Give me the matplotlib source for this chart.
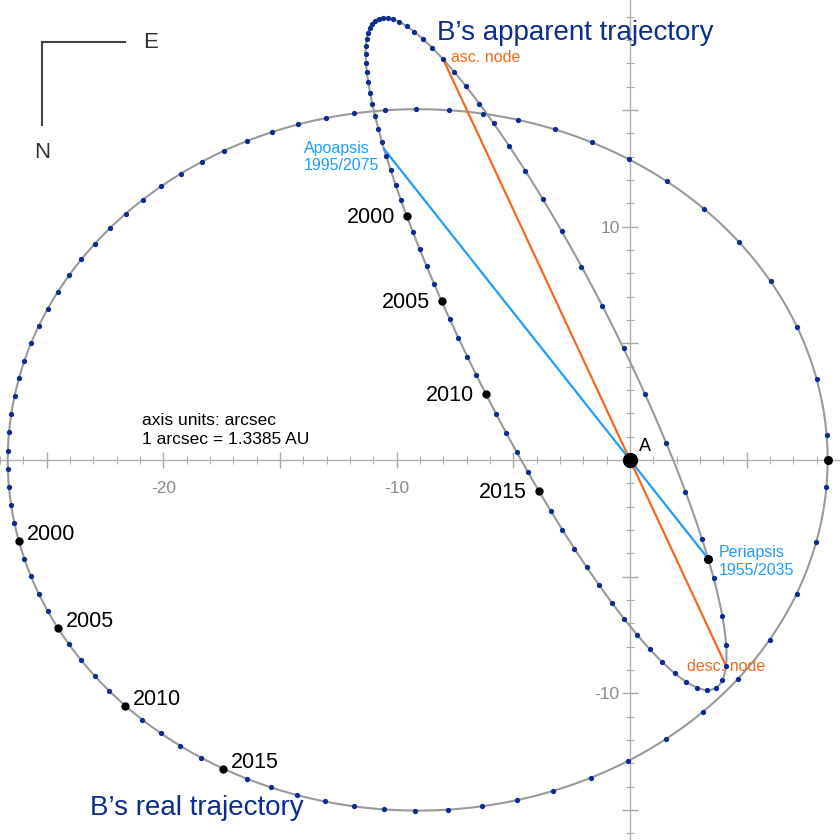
import numpy as np
import matplotlib
matplotlib.use("Agg")
import matplotlib.pyplot as plt

plt.rcParams["font.family"] = ["Liberation Sans", "DejaVu Sans"]

# orbital elements of alpha Centauri B around A
a = 17.57        # semi-major axis, arcsec
e = 0.5179       # eccentricity
inc = 79.20      # inclination, deg
node = 205.0     # longitude of ascending node, deg
omega = 231.7    # argument of periapsis, deg
period = 79.91   # years
t_peri = 1955.56 # epoch of periapsis

years = np.arange(1956, 2036)          # one dot per year
labeled_years = [2000, 2005, 2010, 2015]

navy = "#0b2d8e"
blue = "#1c9dff"
orange = "#f26a1d"
grey = "#9a9a9a"

# Thiele-Innes constants
w, W, i = np.radians(omega), np.radians(node), np.radians(inc)
TA = a * (np.cos(w) * np.cos(W) - np.sin(w) * np.sin(W) * np.cos(i))
TB = a * (np.cos(w) * np.sin(W) + np.sin(w) * np.cos(W) * np.cos(i))
TF = a * (-np.sin(w) * np.cos(W) - np.cos(w) * np.sin(W) * np.cos(i))
TG = a * (-np.sin(w) * np.sin(W) + np.cos(w) * np.cos(W) * np.cos(i))
sq = np.sqrt(1 - e**2)


def ecc_anomaly(t):
    M = 2 * np.pi * (np.asarray(t, float) - t_peri) / period
    E = M.copy()
    for _ in range(30):
        E = E - (E - e * np.sin(E) - M) / (1 - e * np.cos(E))
    return E


def real_pos(E):
    return a * (np.cos(E) - e), a * sq * np.sin(E)


def sky_pos(E):
    X = np.cos(E) - e
    Y = sq * np.sin(E)
    # x = east, y = -north (north points down)
    return TB * X + TG * Y, -(TA * X + TF * Y)


def E_from_nu(nu):
    return 2 * np.arctan(np.sqrt((1 - e) / (1 + e)) * np.tan(nu / 2))


E_line = np.linspace(0, 2 * np.pi, 721)
E_years = ecc_anomaly(years)
E_lab = ecc_anomaly(labeled_years)

fig = plt.figure(figsize=(8.4, 8.4), dpi=100)
ax = fig.add_axes([0, 0, 1, 1])
ax.set_xlim(-27.0, 9.0)
ax.set_ylim(-16.29, 19.71)
ax.set_aspect("equal")

# axes through A
for s in ["top", "right"]:
    ax.spines[s].set_visible(False)
for s in ["left", "bottom"]:
    ax.spines[s].set_position(("data", 0))
    ax.spines[s].set_color("#b0b0b0")
    ax.spines[s].set_linewidth(1)
xmaj = np.arange(-25, 10, 5)
ymaj = np.arange(-15, 20, 5)
ax.set_xticks(xmaj)
ax.set_xticklabels(["-20" if v == -20 else "-10" if v == -10 else "" for v in xmaj])
ax.set_yticks(ymaj)
ax.set_yticklabels(["10" if v == 10 else "-10" if v == -10 else "" for v in ymaj])
ax.set_xticks(np.arange(-27, 10), minor=True)
ax.set_yticks(np.arange(-16, 20), minor=True)
ax.tick_params(which="major", direction="inout", length=11, width=1,
               color="#aaaaaa", labelcolor="#8a8a8a", labelsize=12.5)
ax.tick_params(which="minor", direction="inout", length=6, width=0.8, color="#aaaaaa")
ax.tick_params(axis="x", which="major", pad=10)
ax.tick_params(axis="y", which="major", pad=2)

# trajectories
rx, ry = real_pos(E_line)
ax.plot(rx, ry, color=grey, lw=1.5, zorder=3)
sx, sy = sky_pos(E_line)
ax.plot(sx, sy, color=grey, lw=1.5, zorder=3)

# apsides and nodes
px, py = sky_pos(0.0)
qx, qy = sky_pos(np.pi)
ax.plot([qx, px], [qy, py], color=blue, lw=1.6, zorder=4)
nu_asc = -np.radians(omega)
nu_desc = np.pi - np.radians(omega)
ax_, ay_ = sky_pos(E_from_nu(nu_asc))
dx_, dy_ = sky_pos(E_from_nu(nu_desc))
ax.plot([ax_, dx_], [ay_, dy_], color=orange, lw=1.6, zorder=4)

# yearly dots
ax.plot(*real_pos(E_years), "o", color=navy, ms=3.8, mec="none", zorder=5)
ax.plot(*sky_pos(E_years), "o", color=navy, ms=3.8, mec="none", zorder=5)
ax.plot(*real_pos(E_lab), "o", color="black", ms=6, mec="none", zorder=6)
ax.plot(*sky_pos(E_lab), "o", color="black", ms=6, mec="none", zorder=6)
ax.plot(*real_pos(0.0), "o", color="black", ms=6.5, mec="none", zorder=6)
ax.plot(px, py, "o", color="black", ms=6.5, mec="none", zorder=6)
ax.plot(0, 0, "o", color="black", ms=11, mec="none", zorder=7)

# year labels
for yr, xr, yrr, xs, ys in zip(labeled_years, *real_pos(E_lab), *sky_pos(E_lab)):
    ax.annotate(str(yr), (xr, yrr), xytext=(8, 6), textcoords="offset pixels",
                ha="left", va="center", fontsize=15.5, zorder=8)
    ax.annotate(str(yr), (xs, ys), xytext=(-12, -1), textcoords="offset pixels",
                ha="right", va="center", fontsize=15.5, zorder=8)

ax.annotate("A", (0, 0), xytext=(15, 13), textcoords="offset pixels",
            ha="center", va="center", fontsize=13)
ax.annotate("Apoapsis\n1995/2075", (qx, qy), xytext=(-5, -8), textcoords="offset pixels",
            ha="right", va="center", multialignment="left", fontsize=11.5,
            color=blue, linespacing=1.2)
ax.annotate("Periapsis\n1955/2035", (px, py), xytext=(11, -3), textcoords="offset pixels",
            ha="left", va="center", multialignment="left", fontsize=11.5,
            color=blue, linespacing=1.2)
ax.annotate("asc. node", (ax_, ay_), xytext=(8, 2), textcoords="offset pixels",
            ha="left", va="center", fontsize=11.5, color=orange)
ax.annotate("desc. node", (dx_, dy_), xytext=(0, -1), textcoords="offset pixels",
            ha="center", va="center", fontsize=11.5, color=orange, zorder=8)

ax.text(0.169, 0.488, "axis units: arcsec\n1 arcsec = 1.3385 AU", transform=ax.transAxes,
        ha="left", va="center", fontsize=12.5, linespacing=1.35)
ax.text(0.520, 0.961, "B\u2019s apparent trajectory", transform=ax.transAxes,
        ha="left", va="center", fontsize=20, color=navy)
ax.text(0.107, 0.038, "B\u2019s real trajectory", transform=ax.transAxes,
        ha="left", va="center", fontsize=20, color=navy)

# compass
ax.plot([0.05, 0.149], [0.95, 0.95], transform=ax.transAxes, color="#444444", lw=1.5)
ax.plot([0.05, 0.05], [0.95, 0.851], transform=ax.transAxes, color="#444444", lw=1.5)
ax.text(0.179, 0.95, "E", transform=ax.transAxes, ha="center", va="center",
        fontsize=16, color="#333333")
ax.text(0.05, 0.819, "N", transform=ax.transAxes, ha="center", va="center",
        fontsize=16, color="#333333")

fig.savefig("out.png", dpi=100)
